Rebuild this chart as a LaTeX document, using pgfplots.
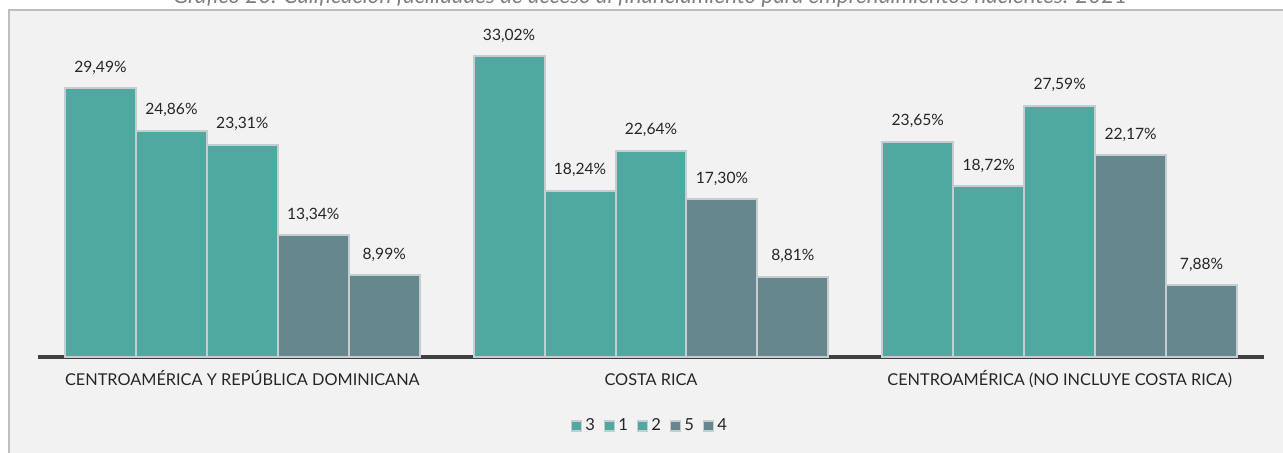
\documentclass[border=0pt]{standalone}
\usepackage{pgfplots}
\pgfplotsset{compat=1.18}
\usepackage{fontspec}
\setmainfont{Lato}
\definecolor{tealbar}{HTML}{4FA9A0}
\definecolor{slatebar}{HTML}{66878E}
\definecolor{barline}{HTML}{C5CDD0}
\definecolor{panel}{HTML}{F2F2F2}
\definecolor{panelline}{HTML}{BFBFBF}
\definecolor{txt}{HTML}{262626}
\definecolor{titlegray}{HTML}{808080}

\begin{document}
\begin{tikzpicture}
% pixel helpers: 1 px = 0.5pt, y measured from the top
\begin{scope}[x=0.5pt,y=-0.5pt,yshift=226pt]
\useasboundingbox (0,0) rectangle (1283,452);
\fill[panel] (9,10) rectangle (1300,470);
\draw[panelline, line width=1pt] (9,470) -- (9,10) -- (1300,10);
\node[anchor=base, font=\fontsize{11.2}{13}\selectfont\itshape, text=titlegray, inner sep=0pt]
  at (650,3) {Gráfico 20. Calificación facilidades de acceso al financiamiento para emprendimientos nacientes. 2021};
\end{scope}

\begin{axis}[
  at={(19pt,47.5pt)}, anchor=south west,
  scale only axis, width=613pt, height=164pt,
  xmin=-0.5, xmax=2.5, ymin=0, ymax=36,
  axis x line*=bottom, axis y line=none,
  axis line style={draw=black!75, line width=1.6pt, -},
  ytick=\empty,
  xtick={0,1,2},
  xticklabels={CENTROAMÉRICA Y REPÚBLICA DOMINICANA, COSTA RICA, CENTROAMÉRICA (NO INCLUYE COSTA RICA)},
  major tick length=0pt,
  xticklabel style={font=\fontsize{8.15}{9}\selectfont, text=txt, anchor=base, yshift=-14.3pt},
  ybar=0pt, bar width=0.1736,
  every axis plot/.append style={draw=barline, line width=1pt},
  nodes near coords, point meta=explicit symbolic,
  nodes near coords style={font=\fontsize{7.8}{9}\selectfont, text=txt, anchor=base, inner sep=0pt, yshift=8pt},
  legend style={at={(0.5,-0.21)}, anchor=center, draw=none, fill=none,
    legend columns=-1, font=\fontsize{8.3}{9}\selectfont, text=txt,
    /tikz/every even column/.append style={column sep=2.5pt},
    /tikz/every odd column/.append style={column sep=-0.5pt}},
  legend image code/.code={\draw[#1, draw=barline, line width=0.7pt] (0pt,-2.5pt) rectangle (5pt,2.5pt);},
  clip=false,
]
\addplot[fill=tealbar] coordinates {(0,29.49) [29,49\%] (1,33.02) [33,02\%] (2,23.65) [23,65\%]};
\addlegendentry{3}
\addplot[fill=tealbar] coordinates {(0,24.86) [24,86\%] (1,18.24) [18,24\%] (2,18.72) [18,72\%]};
\addlegendentry{1}
\addplot[fill=tealbar] coordinates {(0,23.31) [23,31\%] (1,22.64) [22,64\%] (2,27.59) [27,59\%]};
\addlegendentry{2}
\addplot[fill=slatebar] coordinates {(0,13.34) [13,34\%] (1,17.30) [17,30\%] (2,22.17) [22,17\%]};
\addlegendentry{5}
\addplot[fill=slatebar] coordinates {(0,8.99) [8,99\%] (1,8.81) [8,81\%] (2,7.88) [7,88\%]};
\addlegendentry{4}
\end{axis}
\end{tikzpicture}
\end{document}
